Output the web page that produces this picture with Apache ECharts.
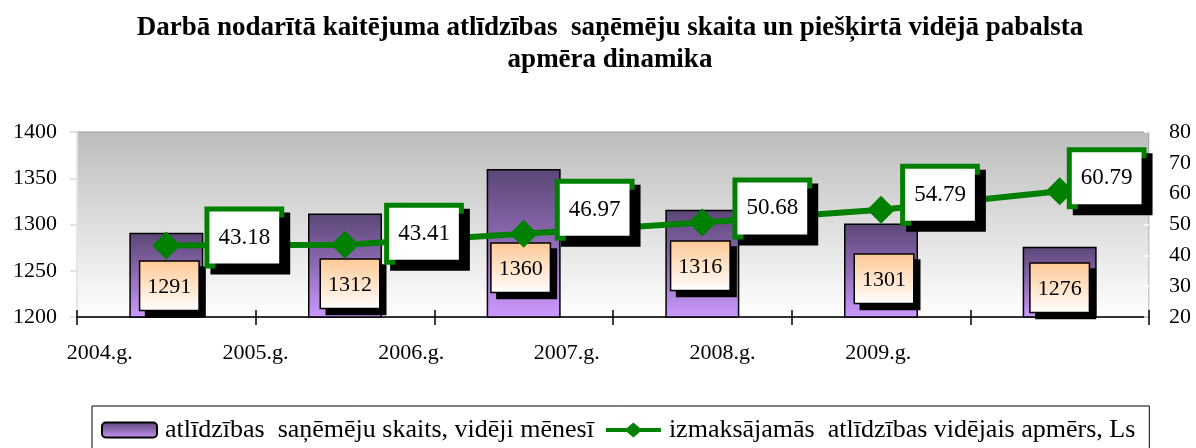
<!DOCTYPE html>
<html>
<head>
<meta charset="utf-8">
<script src="https://cdn.jsdelivr.net/npm/echarts@6/dist/echarts.min.js"></script>
<style>
html,body{margin:0;padding:0;background:#fff;}
#chart{width:1196px;height:448px;}
</style>
</head>
<body>
<div id="chart"></div>
<script>
// ---- data ----
const categories = ['2004.g.', '2005.g.', '2006.g.', '2007.g.', '2008.g.', '2009.g.'];
const recipientsMonthly = [1291, 1312, 1360, 1316, 1301, 1276];
const averageBenefit = [43.18, 43.41, 46.97, 50.68, 54.79, 60.79];
const titleText = 'Darbā nodarītā kaitējuma atlīdzības  saņēmēju skaita un piešķirtā vidējā pabalsta\napmēra dinamika';
const seriesNames = ['atlīdzības  saņēmēju skaits, vidēji mēnesī', 'izmaksājamās  atlīdzības vidējais apmērs, Ls'];

// ---- label placement (style only) ----
const barLabelOffsets = [[3, -8], [5, -10], [-3, -26], [-2, -28], [3, -15], [0, -6]];
const lineLabelOffsets = [[78, -8], [79, -11], [71, -24], [70, -14], [59, -15], [47, -13]];

const FONT = "'Liberation Serif', 'Times New Roman', serif";
const chart = echarts.init(document.getElementById('chart'), null, {renderer: 'canvas'});

const barGrad = new echarts.graphic.LinearGradient(0, 0, 0, 1, [
  {offset: 0, color: '#5b4676'},
  {offset: 0.5, color: '#8f6cb5'},
  {offset: 1, color: '#cc99ff'}
]);
const peachGrad = new echarts.graphic.LinearGradient(0, 0, 0, 1, [
  {offset: 0, color: '#ffc894'},
  {offset: 1, color: '#ffffff'}
]);
// legend icon: thick line with a diamond in the middle
const lineDiamondIcon = 'path://M0,6.5 L21,6.5 L27.5,0 L34,6.5 L55,6.5 L55,11.5 L34,11.5 L27.5,18 L21,11.5 L0,11.5 Z';

const barData = recipientsMonthly.map((v, i) => ({
  value: v,
  label: {offset: barLabelOffsets[i]}
}));
const lineData = averageBenefit.map((v, i) => ({
  value: v,
  label: {offset: lineLabelOffsets[i]}
}));

const option = {
  backgroundColor: '#ffffff',
  animation: false,
  title: {
    text: titleText,
    left: 605,
    top: 7,
    textAlign: 'center',
    textStyle: {fontFamily: FONT, fontWeight: 'bold', fontSize: 27, color: '#000', lineHeight: 32}
  },
  legend: {
    left: 92,
    top: 406,
    itemGap: 12,
    itemWidth: 55,
    itemHeight: 15,
    symbolKeepAspect: false,
    padding: [9, 14, 9, 9],
    borderColor: '#000',
    borderWidth: 1,
    textStyle: {fontFamily: FONT, fontSize: 26, color: '#000', lineHeight: 30, padding: [0, 0, 0, 3]},
    data: [
      {name: seriesNames[0], itemStyle: {color: barGrad, borderColor: '#000', borderWidth: 2}},
      {name: seriesNames[1], icon: lineDiamondIcon, itemStyle: {color: '#008000', borderWidth: 0}}
    ]
  },
  grid: [
    {left: 77, right: 47, top: 132, bottom: 131, show: true,
      backgroundColor: new echarts.graphic.LinearGradient(0, 0, 0, 1, [
        {offset: 0, color: '#bdbdbd'},
        {offset: 1, color: '#ffffff'}
      ]),
      borderColor: '#9a9a9a', borderWidth: 1},
    {left: 22, width: 934, top: 132, bottom: 131}
  ],
  xAxis: [
    {type: 'category', gridIndex: 0, data: categories,
      axisLine: {lineStyle: {color: '#000', width: 1.5}},
      axisTick: {show: true, length: 8, lineStyle: {color: '#000', width: 1.5}},
      axisLabel: {show: false}},
    {type: 'category', gridIndex: 0, data: categories, position: 'bottom',
      axisLine: {show: false},
      axisTick: {show: true, inside: true, length: 7, lineStyle: {color: '#000', width: 1.5}},
      axisLabel: {show: false}},
    {type: 'category', gridIndex: 1, data: categories,
      axisLine: {show: false}, axisTick: {show: false},
      axisLabel: {fontFamily: FONT, fontSize: 22, color: '#000', margin: 25}}
  ],
  yAxis: [
    {type: 'value', gridIndex: 0, min: 1200, max: 1400, interval: 50,
      axisLine: {show: true, lineStyle: {color: '#e6e6e6', width: 2}},
      axisTick: {show: true, length: 7, lineStyle: {color: '#dcdcdc', width: 1.5}},
      splitLine: {show: false},
      axisLabel: {fontFamily: FONT, fontSize: 22, color: '#000', margin: 20, formatter: v => String(v)}},
    {type: 'value', gridIndex: 0, min: 20, max: 80, interval: 10, position: 'right',
      axisLine: {show: true, lineStyle: {color: '#e6e6e6', width: 1}},
      axisTick: {show: true, inside: true, length: 5, lineStyle: {color: '#ffffff', width: 1.5}},
      splitLine: {show: false},
      axisLabel: {fontFamily: FONT, fontSize: 22, color: '#000', margin: 20, formatter: v => String(v)}},
    {type: 'value', gridIndex: 1, show: false}
  ],
  series: [
    {
      name: seriesNames[0],
      type: 'bar',
      xAxisIndex: 0, yAxisIndex: 0,
      barWidth: 74,
      data: barData,
      itemStyle: {color: barGrad, borderColor: '#000', borderWidth: 1.5},
      label: {
        show: true,
        position: 'insideBottom',
        distance: 0,
        fontFamily: FONT, fontSize: 22, color: '#000',
        backgroundColor: peachGrad,
        borderColor: '#000', borderWidth: 1.5,
        padding: [14, 7, 12, 7],
        shadowColor: '#000', shadowBlur: 0, shadowOffsetX: 6, shadowOffsetY: 6
      },
      z: 2
    },
    {
      name: seriesNames[1],
      type: 'line',
      xAxisIndex: 0, yAxisIndex: 1,
      data: lineData,
      symbol: 'diamond',
      symbolSize: 28,
      lineStyle: {color: '#008000', width: 6},
      itemStyle: {color: '#008000'},
      label: {
        show: true,
        position: 'inside',
        fontFamily: FONT, fontSize: 23, color: '#000',
        backgroundColor: '#ffffff',
        borderColor: '#008000', borderWidth: 5,
        padding: [15, 9, 14, 9],
        shadowColor: '#000', shadowBlur: 0, shadowOffsetX: 6, shadowOffsetY: 6,
        formatter: p => p.value.toFixed(2)
      },
      z: 5
    }
  ]
};
chart.setOption(option);
</script>
</body>
</html>
